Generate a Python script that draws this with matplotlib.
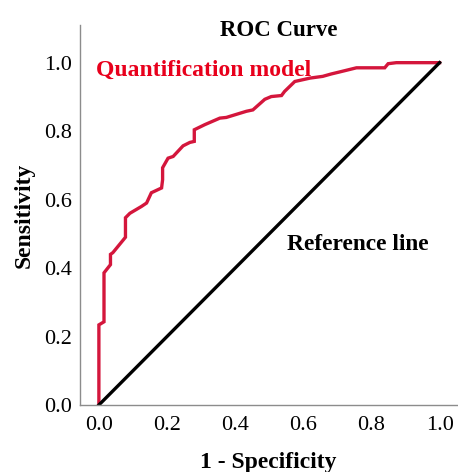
import matplotlib.pyplot as plt

# ROC curve points (1 - specificity, sensitivity)
fpr = [0.0, 0.0, 0.015, 0.015, 0.034, 0.034, 0.041, 0.078, 0.078, 0.091,
       0.125, 0.14, 0.154, 0.184, 0.187, 0.187, 0.203, 0.218, 0.247, 0.267,
       0.28, 0.28, 0.311, 0.355, 0.374, 0.433, 0.452, 0.487, 0.506, 0.536,
       0.545, 0.575, 0.62, 0.657, 0.682, 0.707, 0.756, 0.839, 0.849, 0.873, 1.0]
tpr = [0.0, 0.234, 0.243, 0.386, 0.41, 0.44, 0.445, 0.49, 0.547, 0.56,
       0.58, 0.59, 0.62, 0.634, 0.658, 0.693, 0.721, 0.726, 0.757, 0.767,
       0.77, 0.804, 0.819, 0.838, 0.84, 0.858, 0.862, 0.893, 0.901, 0.904,
       0.916, 0.945, 0.955, 0.96, 0.967, 0.973, 0.985, 0.985, 0.997, 1.0, 1.0]
ref = [0.0, 1.0]
ticks = [0.0, 0.2, 0.4, 0.6, 0.8, 1.0]

plt.rcParams['font.family'] = ['Liberation Serif', 'DejaVu Serif']

fig = plt.figure(figsize=(4.58, 4.72), dpi=100)
ax = fig.add_axes([0.175, 0.142, 0.822, 0.805])

ax.plot(fpr, tpr, color='#d4163c', lw=2.4, solid_joinstyle='miter')
ax.plot(ref, ref, color='black', lw=2.4)

ax.set_xlim(-0.055, 1.05)
ax.set_ylim(0, 1.11)
ax.set_xticks(ticks)
ax.set_yticks(ticks)
ax.set_xticklabels(['%.1f' % t for t in ticks])
ax.set_yticklabels(['%.1f' % t for t in ticks])
ax.tick_params(axis='x', length=0, labelsize=16, pad=8)
ax.tick_params(axis='y', length=0, labelsize=16, pad=6)

for s in ['top', 'right']:
    ax.spines[s].set_visible(False)
for s in ['left', 'bottom']:
    ax.spines[s].set_color('#8c8c8c')
    ax.spines[s].set_linewidth(1.0)

ax.set_xlabel('1 - Specificity', fontsize=17, fontweight='bold', labelpad=12)
ax.set_ylabel('Sensitivity', fontsize=17, fontweight='bold', labelpad=7)

fig.text(0.608, 0.935, 'ROC Curve', ha='center', va='center',
         fontsize=16.5, fontweight='bold')
ax.text(-0.009, 0.978, 'Quantification model', color='#e8001c',
        fontsize=17, fontweight='bold', ha='left', va='center')
ax.text(0.551, 0.47, 'Reference line', color='black',
        fontsize=16.8, fontweight='bold', ha='left', va='center')

fig.savefig('out.png', dpi=100)
